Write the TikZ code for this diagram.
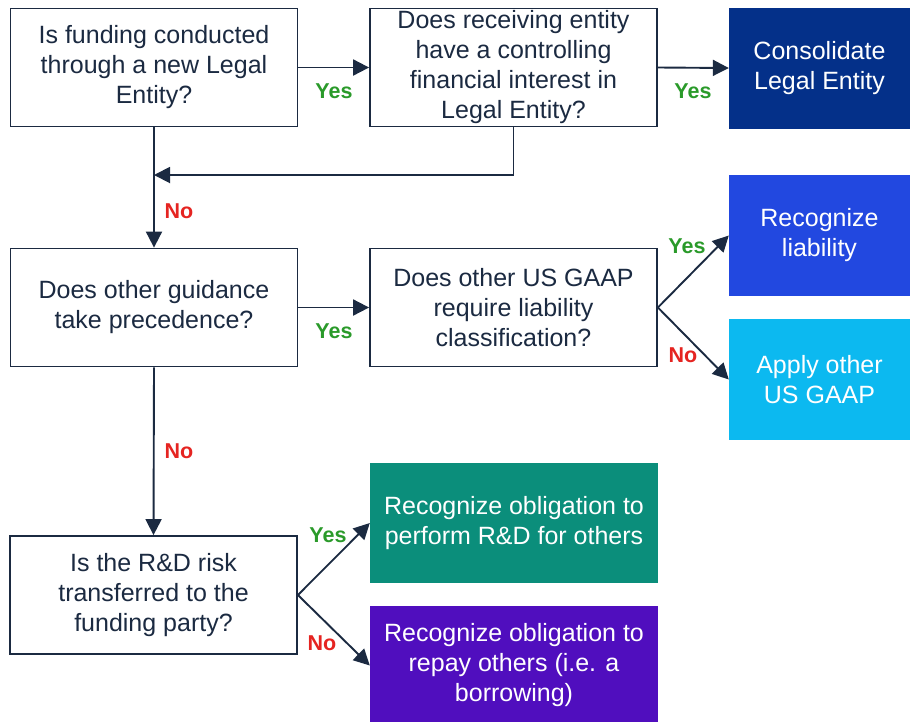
\documentclass[tikz,border=0pt]{standalone}
\usepackage{fontspec}
\setmainfont{Liberation Sans}
\usetikzlibrary{arrows.meta}
\definecolor{navy}{HTML}{1B2A41}
\definecolor{cdark}{HTML}{043089}
\definecolor{cblue}{HTML}{2248E0}
\definecolor{ccyan}{HTML}{0CB9F0}
\definecolor{cteal}{HTML}{0B8E7B}
\definecolor{cpurple}{HTML}{500EBE}
\definecolor{yesgreen}{HTML}{2A9A2A}
\definecolor{nored}{HTML}{E52421}
\begin{document}
\begin{tikzpicture}[x=1pt,y=-1pt,
  qbox/.style={draw=navy, line width=1.8pt, fill=white, text=navy, align=center,
    minimum width=287pt, minimum height=118pt, inner sep=0pt,
    font=\fontsize{25}{30}\selectfont},
  rbox/.style={fill=#1, text=white, align=center, inner sep=0pt,
    minimum width=181pt, minimum height=121pt,
    font=\fontsize{25}{30}\selectfont},
  wbox/.style={rbox=#1, minimum width=288pt},
  arr/.style={draw=navy, line width=1.9pt, -{Triangle[length=16pt,width=16pt]}},
  lab/.style={font=\bfseries\fontsize{21.5}{25}\selectfont},
  yes/.style={lab, text=yesgreen},
  no/.style={lab, text=nored}]
\useasboundingbox (0,0) rectangle (910,721);
% question boxes
\node[qbox] (A) at (154,67.5) {Is funding conducted\\through a new Legal\\Entity?};
\node[qbox] (B) at (513.5,67.5) {Does receiving entity\\have a controlling\\financial interest in\\Legal Entity?};
\node[qbox] (D) at (154,307.5) {Does other guidance\\take precedence?};
\node[qbox] (E) at (513.5,307.5) {Does other US GAAP\\require liability\\classification?};
\node[qbox] (H) at (153.5,595) {Is the R\&D risk\\transferred to the\\funding party?};
% result boxes
\node[rbox=cdark] (C) at (819.5,68) {Consolidate\\Legal Entity};
\node[rbox=cblue] (F) at (819.5,235.5) {Recognize\\liability};
\node[rbox=ccyan] (G) at (819.5,379.5) {Apply other\\US GAAP};
\node[wbox=cteal, minimum height=120pt] (I) at (514,523) {Recognize obligation to\\perform R\&D for others};
\node[wbox=cpurple, minimum height=119pt] (J) at (514,665.5) {Recognize obligation to\\repay others (i.e. a\\borrowing)};
% connectors
\coordinate (M) at (154,175);
\draw[arr] (A.east) -- (B.west);
\draw[arr] (B.east) -- (C.west);
\draw[arr] (B.south) |- (M);
\draw[arr] (A.south) -- (D.north);
\draw[arr] (D.east) -- (E.west);
\draw[arr] (E.east) -- (F.west);
\draw[arr] (E.east) -- (G.west);
\draw[arr] (D.south) -- (H.north);
\draw[arr] (H.east) -- (I.west);
\draw[arr] (H.east) -- (J.west);
% labels
\node[yes] (l1) at (334,91) {Yes};
\node[yes] (l2) at (693,91) {Yes};
\node[no] (l3) at (179,211) {No};
\node[yes] (l4) at (334,331) {Yes};
\node[yes] (l5) at (687,246) {Yes};
\node[no] (l6) at (683,355) {No};
\node[no] (l7) at (179,451) {No};
\node[yes] (l8) at (328,535) {Yes};
\node[no] (l9) at (322,643) {No};
\end{tikzpicture}
\end{document}
